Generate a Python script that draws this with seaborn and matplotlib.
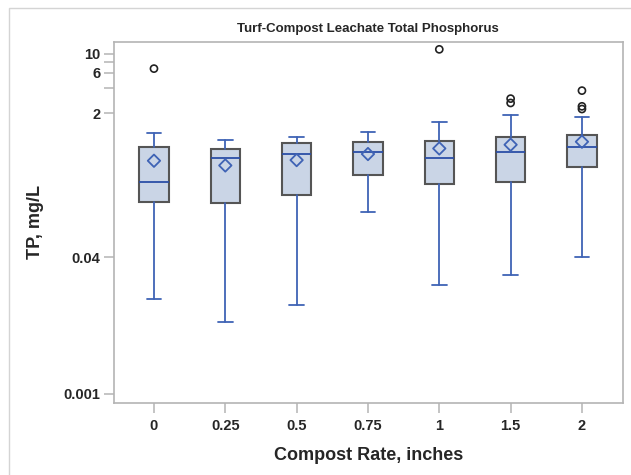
import matplotlib
matplotlib.use("Agg")
import matplotlib.pyplot as plt
import pandas as pd
import numpy as np
import seaborn as sns
from matplotlib.patches import Rectangle

# Values (TP, mg/L)
rates = ['0', '0.25', '0.5', '0.75', '1', '1.5', '2']
whisker_low = [0.0130, 0.00694, 0.0109, 0.138, 0.0188, 0.0249, 0.0405]
q1 = [0.182, 0.176, 0.220, 0.370, 0.292, 0.311, 0.468]
median = [0.309, 0.593, 0.661, 0.690, 0.593, 0.703, 0.800]
q3 = [0.79, 0.749, 0.891, 0.906, 0.931, 1.06, 1.12]
whisker_high = [1.17, 0.957, 1.04, 1.21, 1.56, 1.92, 1.82]
means = [0.551, 0.485, 0.561, 0.661, 0.769, 0.851, 0.923]
outliers = [[6.7], [], [], [], [11.3], [2.97, 2.64], [3.69, 2.41, 2.24]]

y_ticks = [0.001, 0.04, 2, 4, 6, 8, 10]
y_ticklabels = ['0.001', '0.04', '2', '', '6', '', '10']

sns.set_theme(style="white")
plt.rcParams['font.family'] = ['Liberation Sans', 'DejaVu Sans']

blue = '#3f63b5'
dark_blue = '#2b4ea6'
fill = '#cad5e6'
grey = '#b4b4b4'

fig = plt.figure(figsize=(6.31, 4.75), dpi=100)
ax = fig.add_axes([0.1807, 0.1522, 0.806, 0.760])

# box statistics for each compost rate
stats = []
for i, r in enumerate(rates):
    stats.append({'label': r, 'whislo': whisker_low[i], 'q1': q1[i], 'med': median[i],
                  'q3': q3[i], 'whishi': whisker_high[i], 'mean': means[i],
                  'fliers': outliers[i]})

ax.bxp(stats, positions=range(len(rates)), widths=0.41, patch_artist=True,
       showmeans=False, showfliers=False,
       boxprops=dict(facecolor=fill, edgecolor='#555555', linewidth=1.5),
       medianprops=dict(color=dark_blue, linewidth=1.3),
       whiskerprops=dict(color=blue, linewidth=1.3),
       capprops=dict(color=blue, linewidth=1.3))

# means and outliers
df_mean = pd.DataFrame({'pos': range(len(rates)), 'mean': means})
sns.scatterplot(data=df_mean, x='pos', y='mean', marker='D', s=40,
                facecolor='none', edgecolor=blue, linewidth=1.3, ax=ax, zorder=5)

out_pos = [i for i, o in enumerate(outliers) for _ in o]
out_val = [v for o in outliers for v in o]
df_out = pd.DataFrame({'pos': out_pos, 'val': out_val})
sns.scatterplot(data=df_out, x='pos', y='val', marker='o', s=26,
                facecolor='none', edgecolor='#222222', linewidth=1.2, ax=ax, zorder=5)

ax.set_yscale('log')
ax.set_ylim(0.00078, 13.9)
ax.set_xlim(-0.56, 6.57)
ax.minorticks_off()
ax.set_yticks(y_ticks)
ax.set_yticklabels(y_ticklabels)
ax.set_xticks(range(len(rates)))
ax.set_xticklabels(rates)

for s in ax.spines.values():
    s.set_color(grey)
    s.set_linewidth(1.2)
ax.tick_params(axis='both', which='major', direction='out', length=7, width=1.1,
               color=grey, labelsize=10.5, pad=3, left=True, bottom=True)
for lab in ax.get_xticklabels() + ax.get_yticklabels():
    lab.set_fontweight('bold')
ax.tick_params(axis='x', pad=5)

ax.set_xlabel('Compost Rate, inches', fontsize=13, fontweight='bold', labelpad=10)
ax.set_ylabel('TP, mg/L', fontsize=13, fontweight='bold', labelpad=14)
ax.set_title('Turf-Compost Leachate Total Phosphorus', fontsize=9.5,
             fontweight='bold', pad=7)

# outer graph border
fig.patches.append(Rectangle((9 / 631, -0.01), 1.0, 1 - 8 / 475 + 0.01,
                             transform=fig.transFigure, fill=False,
                             edgecolor='#d4d4d4', linewidth=1.0))

fig.savefig('out.png', dpi=100)
